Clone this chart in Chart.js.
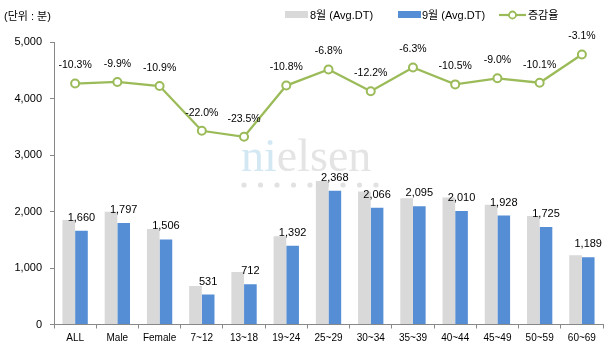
<!DOCTYPE html>
<html>
<head>
<meta charset="utf-8">
<script src="https://cdn.jsdelivr.net/npm/chart.js@4.4.1/dist/chart.umd.min.js"></script>
<style>
  html, body { margin: 0; padding: 0; background: #fff; }
  #wrap { position: relative; width: 610px; height: 361px; font-family: "Liberation Sans", "Noto Sans CJK KR", sans-serif; color: #000; }
  #c { position: absolute; left: 0; top: 0; }
  .t { position: absolute; font-size: 11px; line-height: 14px; white-space: nowrap; }
  .box { position: absolute; height: 7px; width: 23px; }
</style>
</head>
<body>
<div id="wrap">
  <canvas id="c" width="610" height="361"></canvas>
  <div class="t" style="left:4px; top:9px;">(단위 : 분)</div>
  <div class="box" style="left:285px; top:11px; background:#d9d9d9;"></div>
  <div class="t" style="left:310px; top:8px;">8월 (Avg.DT)</div>
  <div class="box" style="left:398px; top:11px; background:#558ed5;"></div>
  <div class="t" style="left:422px; top:8px;">9월 (Avg.DT)</div>
  <svg style="position:absolute; left:499px; top:9px;" width="28" height="12">
    <line x1="0" y1="6" x2="27" y2="6" stroke="#9bbb59" stroke-width="2.2"/>
    <circle cx="13.5" cy="6" r="3.5" fill="#fff" stroke="#9bbb59" stroke-width="1.8"/>
  </svg>
  <div class="t" style="left:528px; top:8px;">증감율</div>
</div>
<script>
const categories = ['ALL','Male','Female','7~12','13~18','19~24','25~29','30~34','35~39','40~44','45~49','50~59','60~69'];
const augValues = [1851, 1994, 1690, 681, 931, 1561, 2541, 2353, 2236, 2246, 2119, 1919, 1227];
const sepValues = [1660, 1797, 1506, 531, 712, 1392, 2368, 2066, 2095, 2010, 1928, 1725, 1189];
const changeRates = [-10.3, -9.9, -10.9, -22.0, -23.5, -10.8, -6.8, -12.2, -6.3, -10.5, -9.0, -10.1, -3.1];
const yTicks = [0, 1000, 2000, 3000, 4000, 5000];

const FONT = '"Liberation Sans", "Noto Sans CJK KR", sans-serif';

const watermark = {
  id: 'watermark',
  beforeDatasetsDraw(chart) {
    const ctx = chart.ctx;
    ctx.save();
    ctx.font = '46px "Liberation Serif", "DejaVu Serif", serif';
    ctx.textBaseline = 'alphabetic';
    ctx.textAlign = 'left';
    const x0 = 241, yb = 171;
    ctx.fillStyle = '#d3e8f2';
    ctx.fillText('ni', x0, yb);
    const w = ctx.measureText('ni').width;
    ctx.fillStyle = '#e4e4e4';
    ctx.fillText('elsen', x0 + w, yb);
    ctx.fillStyle = '#e2e2e2';
    for (let i = 0; i < 9; i++) {
      ctx.beginPath();
      ctx.arc(244 + i * 16.5, 185, 2.6, 0, Math.PI * 2);
      ctx.fill();
    }
    ctx.restore();
  }
};

const valueLabels = {
  id: 'valueLabels',
  afterDatasetsDraw(chart) {
    const ctx = chart.ctx;
    ctx.save();
    ctx.fillStyle = '#000';
    ctx.textAlign = 'center';
    ctx.textBaseline = 'middle';
    ctx.font = '11px ' + FONT;
    const sepMeta = chart.getDatasetMeta(2);
    sepMeta.data.forEach((el, i) => {
      ctx.fillText(sepValues[i].toLocaleString('en-US'), el.x, el.y - 13);
    });
    ctx.font = '10.5px ' + FONT;
    const lineMeta = chart.getDatasetMeta(0);
    lineMeta.data.forEach((el, i) => {
      ctx.fillText(changeRates[i].toFixed(1) + '%', el.x, el.y - 18);
    });
    ctx.restore();
  }
};

new Chart(document.getElementById('c'), {
  type: 'bar',
  data: {
    labels: categories,
    datasets: [
      {
        type: 'line',
        label: '증감율',
        data: changeRates,
        yAxisID: 'y1',
        borderColor: '#9bbb59',
        borderWidth: 2.3,
        pointRadius: 4,
        pointBorderWidth: 2,
        pointBackgroundColor: '#ffffff',
        pointBorderColor: '#9bbb59',
        tension: 0,
        order: 0
      },
      {
        label: '8월 (Avg.DT)',
        data: augValues,
        backgroundColor: '#d9d9d9',
        yAxisID: 'y',
        categoryPercentage: 0.6,
        barPercentage: 1.0,
        order: 1
      },
      {
        label: '9월 (Avg.DT)',
        data: sepValues,
        backgroundColor: '#558ed5',
        yAxisID: 'y',
        categoryPercentage: 0.6,
        barPercentage: 1.0,
        order: 2
      }
    ]
  },
  options: {
    responsive: false,
    devicePixelRatio: 1,
    animation: false,
    layout: { padding: { top: 42, right: 7, left: 0, bottom: 0 } },
    plugins: { legend: { display: false }, tooltip: { enabled: false } },
    scales: {
      x: {
        offset: true,
        grid: { display: true, offset: true, drawOnChartArea: false, drawTicks: true, tickLength: 4, color: '#888', lineWidth: 1 },
        border: { display: true, color: '#888', width: 1 },
        ticks: { color: '#000', font: { family: FONT, size: 10 }, padding: 4, maxRotation: 0, autoSkip: false },
        afterFit(s) { s.height = 36.5; }
      },
      y: {
        min: 0,
        max: 5000,
        afterBuildTicks(s) { s.ticks = yTicks.map(v => ({ value: v })); },
        grid: { display: true, drawOnChartArea: false, drawTicks: true, tickLength: 4, color: '#888' },
        border: { display: true, color: '#888', width: 1 },
        ticks: { color: '#000', font: { family: FONT, size: 11 }, padding: 8, callback: v => v.toLocaleString('en-US') },
        afterFit(s) { s.width = 54; }
      },
      y1: {
        display: false,
        position: 'right',
        min: -70,
        max: 0
      }
    }
  },
  plugins: [watermark, valueLabels]
});
</script>
</body>
</html>
